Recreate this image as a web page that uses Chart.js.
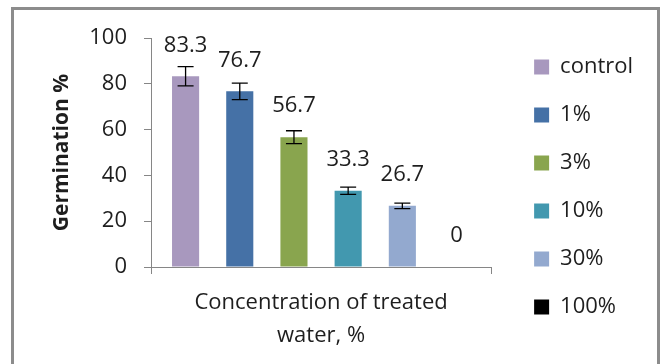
<!DOCTYPE html>
<html lang="en">
<head>
    <meta charset="UTF-8">
    <title>Germination %</title>
    <script src="https://cdn.jsdelivr.net/npm/chart.js"></script>
    <style>
        body {
            margin: 0;
            background: #ffffff;
            width: 665px;
            height: 364px;
            overflow: hidden;
            position: relative;
        }
        #chart {
            position: absolute;
            left: 0;
            top: 0;
        }
        .frame {
            position: absolute;
            left: 11px;
            top: 7px;
            width: 643px;
            height: 400px;
            border: 3px solid #8c8c8c;
            border-bottom: none;
        }
    </style>
</head>
<body>
    <canvas id="chart" width="665" height="364"></canvas>
    <div class="frame"></div>

    <script>
        // data
        const categories = [''];
        const seriesNames = ['control', '1%', '3%', '10%', '30%', '100%'];
        const germination = [83.3, 76.7, 56.7, 33.3, 26.7, 0];
        const errorBars = [4.2, 3.6, 2.8, 1.6, 1.2, 0];
        const yTicks = [0, 20, 40, 60, 80, 100];
        const barColors = ['#a898be', '#4571a6', '#89a54e', '#4298af', '#93a9cf', '#000000'];

        const textColor = '#1e1e1e';
        const axisColor = '#868686';

        // error bars and value labels
        const barExtras = {
            id: 'barExtras',
            afterDatasetsDraw(chart) {
                const ctx = chart.ctx;
                const y = chart.scales.y;
                ctx.save();
                chart.data.datasets.forEach((ds, i) => {
                    const bar = chart.getDatasetMeta(i).data[0];
                    const v = ds.data[0];
                    const e = errorBars[i];
                    if (e > 0) {
                        const yTop = y.getPixelForValue(v + e);
                        const yBot = y.getPixelForValue(v - e);
                        ctx.strokeStyle = '#000';
                        ctx.lineWidth = 1.3;
                        ctx.beginPath();
                        ctx.moveTo(bar.x, yTop);
                        ctx.lineTo(bar.x, yBot);
                        ctx.moveTo(bar.x - 8, yTop);
                        ctx.lineTo(bar.x + 8, yTop);
                        ctx.moveTo(bar.x - 8, yBot);
                        ctx.lineTo(bar.x + 8, yBot);
                        ctx.stroke();
                    }
                    ctx.fillStyle = textColor;
                    ctx.font = '22px "Open Sans"';
                    ctx.textAlign = 'center';
                    ctx.textBaseline = 'middle';
                    ctx.fillText(String(v), bar.x, bar.y - 31);
                });
                ctx.restore();
            }
        };

        new Chart(document.getElementById('chart'), {
            type: 'bar',
            data: {
                labels: categories,
                datasets: seriesNames.map((name, i) => ({
                    label: name,
                    data: [germination[i]],
                    backgroundColor: barColors[i],
                    borderWidth: 0
                }))
            },
            options: {
                responsive: false,
                animation: false,
                devicePixelRatio: 1,
                categoryPercentage: 0.956,
                barPercentage: 0.5,
                layout: {
                    padding: { top: 30, left: 14, right: 22, bottom: 0 }
                },
                plugins: {
                    tooltip: { enabled: false },
                    title: {
                        display: true,
                        text: '',
                        fullSize: false,
                        padding: 0,
                        font: { size: 8, lineHeight: 1 }
                    },
                    legend: {
                        position: 'right',
                        align: 'start',
                        maxWidth: 220,
                        labels: {
                            boxWidth: 15,
                            boxHeight: 15,
                            padding: 26,
                            color: textColor,
                            font: { family: 'Open Sans', size: 22 }
                        }
                    }
                },
                scales: {
                    x: {
                        grid: {
                            drawOnChartArea: false,
                            tickLength: 7,
                            color: axisColor
                        },
                        border: { color: axisColor },
                        ticks: { display: false },
                        title: {
                            display: true,
                            text: ['Concentration of treated', 'water, %'],
                            color: textColor,
                            font: { family: 'Open Sans', size: 22, lineHeight: 1.5 },
                            padding: { bottom: 12 }
                        },
                        afterFit: s => { s.height = 97; }
                    },
                    y: {
                        min: yTicks[0],
                        max: yTicks[yTicks.length - 1],
                        afterBuildTicks: s => { s.ticks = yTicks.map(v => ({ value: v })); },
                        grid: {
                            drawOnChartArea: false,
                            tickLength: 7,
                            color: axisColor
                        },
                        border: { color: axisColor },
                        ticks: {
                            padding: 17,
                            color: textColor,
                            font: { family: 'Open Sans', size: 22 }
                        },
                        title: {
                            display: true,
                            text: 'Germination %',
                            color: textColor,
                            font: { family: 'Open Sans', size: 21, weight: 'bold', lineHeight: 1.2 },
                            padding: { top: 35 }
                        },
                        afterFit: s => { s.width = 137; }
                    },
                    yR: {
                        position: 'right',
                        display: true,
                        grid: { display: false },
                        border: { display: false },
                        ticks: { display: false },
                        afterFit: s => { s.width = 17; }
                    }
                }
            },
            plugins: [barExtras]
        });
    </script>
</body>
</html>
